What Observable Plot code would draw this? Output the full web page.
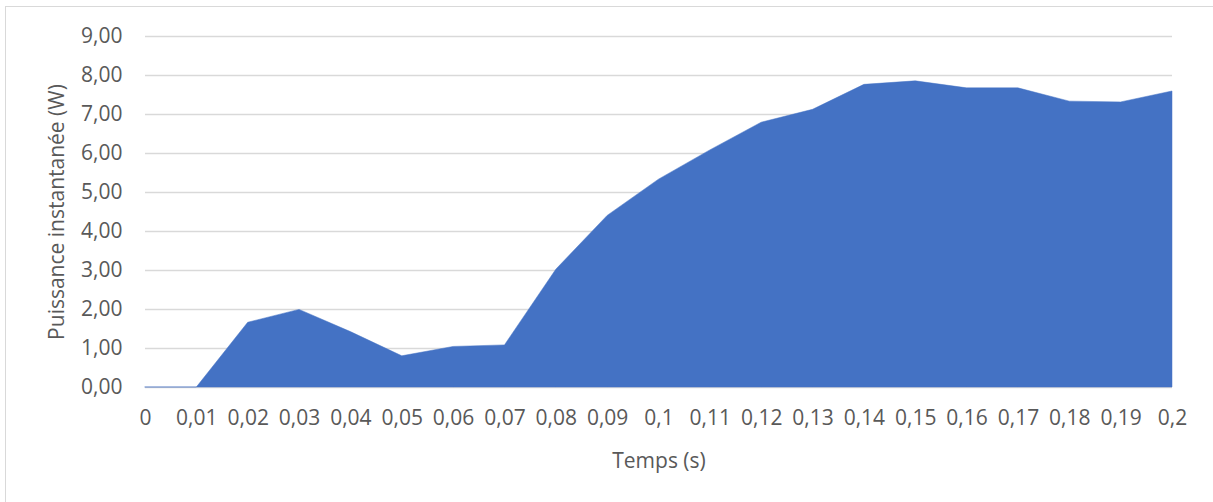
<!DOCTYPE html>
<html>
<head>
<meta charset="utf-8">
<script src="https://cdn.jsdelivr.net/npm/d3@7"></script>
<script src="https://cdn.jsdelivr.net/npm/@observablehq/plot@0.6"></script>
<style>
  html, body { margin: 0; padding: 0; background: #fff; }
  #wrap { position: relative; width: 1213px; height: 502px; overflow: hidden; }
  #frame { position: absolute; left: 5px; top: 6px; width: 1210px; height: 510px; border: 1px solid #d9d9d9; box-sizing: border-box; pointer-events: none; }
  #chart { position: absolute; left: 0; top: 0; }
</style>
</head>
<body>
<div id="wrap"><div id="chart"></div><div id="frame"></div></div>
<script>
const times = [0, 0.01, 0.02, 0.03, 0.04, 0.05, 0.06, 0.07, 0.08, 0.09, 0.1, 0.11, 0.12, 0.13, 0.14, 0.15, 0.16, 0.17, 0.18, 0.19, 0.2];
const power = [0, 0, 1.66, 1.99, 1.42, 0.80, 1.04, 1.08, 3.02, 4.40, 5.33, 6.08, 6.79, 7.12, 7.76, 7.85, 7.67, 7.67, 7.33, 7.31, 7.59];
const yTicks = [0, 1, 2, 3, 4, 5, 6, 7, 8, 9];
const xLabel = "Temps (s)";
const yLabel = "Puissance instantanée (W)";

const data = times.map((t, i) => ({t, p: power[i]}));
const fmtX = v => String(v).replace(".", ",");
const fmtY = v => v.toFixed(2).replace(".", ",");

const chart = Plot.plot({
  width: 1213,
  height: 502,
  marginLeft: 145,
  marginRight: 41,
  marginTop: 36,
  marginBottom: 115,
  style: {fontFamily: "'Open Sans', sans-serif", fontSize: "22px", color: "#595959", background: "transparent"},
  x: {domain: [0, 0.2]},
  y: {domain: [0, 9]},
  marks: [
    Plot.ruleY(yTicks, {stroke: "#d9d9d9", strokeWidth: 1.5}),
    Plot.areaY(data, {x: "t", y: "p", fill: "#4472c4", stroke: "#4472c4", strokeWidth: 0.5}),
    Plot.axisX({ticks: times, tickFormat: fmtX, tickSize: 0, tickPadding: 23, fontSize: 21, label: xLabel, labelAnchor: "center", labelOffset: 80, labelArrow: "none"}),
    Plot.axisY({ticks: yTicks, tickFormat: fmtY, tickSize: 0, tickPadding: 23, fontSize: 21, label: yLabel, labelAnchor: "center", labelOffset: 96, labelArrow: "none"})
  ]
});
document.getElementById("chart").appendChild(chart);
</script>
</body>
</html>
